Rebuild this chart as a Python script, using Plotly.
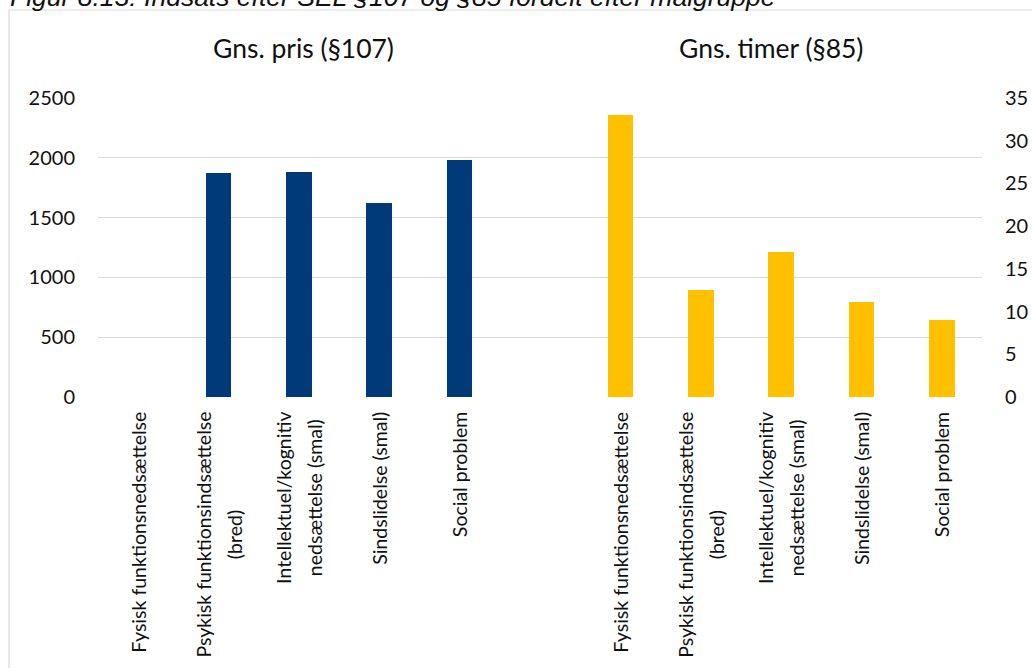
import plotly.graph_objects as go

# Target groups (same order in both panels)
categories = [
    "Fysisk funktionsnedsættelse",
    "Psykisk funktionsindsættelse (bred)",
    "Intellektuel/kognitiv nedsættelse (smal)",
    "Sindslidelse (smal)",
    "Social problem",
]
# Wrapped versions of the category names for the axis labels
category_lines = [
    ["Fysisk funktionsnedsættelse"],
    ["Psykisk funktionsindsættelse", "(bred)"],
    ["Intellektuel/kognitiv", "nedsættelse (smal)"],
    ["Sindslidelse (smal)"],
    ["Social problem"],
]

# Average price, SEL §107 (left axis)
pris_107 = [None, 1870, 1885, 1620, 1980]
# Average hours, SEL §85 (right axis)
timer_85 = [33.0, 12.5, 17.0, 11.1, 9.0]

group_titles = ["Gns. pris (§107)", "Gns. timer (§85)"]
figure_title = "Figur 8.13: Indsats efter SEL §107 og §85 fordelt efter målgruppe"

left_ticks = [0, 500, 1000, 1500, 2000, 2500]
right_ticks = [0, 5, 10, 15, 20, 25, 30, 35]

# Slot positions: five slots per group with one empty slot between the groups
left_slots = [0, 1, 2, 3, 4]
right_slots = [6, 7, 8, 9, 10]

NAVY = "#003A78"
GOLD = "#FFC000"
GRID = "#D9D9D9"
FONT = "Lato"

W, H = 1032, 668
ML, MR, MT, MB = 98, 50, 98, 271
PW, PH = W - ML - MR, H - MT - MB


def px_x(px):
    return (px - ML) / PW


def px_y(py):
    return (H - MB - py) / PH


fig = go.Figure()
fig.add_trace(go.Bar(
    x=left_slots, y=pris_107, width=0.32, marker=dict(color=NAVY, line=dict(width=0)),
    yaxis="y", name=group_titles[0], showlegend=False, hoverinfo="y",
))
fig.add_trace(go.Bar(
    x=right_slots, y=timer_85, width=0.32, marker=dict(color=GOLD, line=dict(width=0)),
    yaxis="y2", name=group_titles[1], showlegend=False, hoverinfo="y",
))

annotations = []
# Category labels, rotated, lines centred on each other
for slots in (left_slots, right_slots):
    for slot, lines in zip(slots, category_lines):
        text = "<br>".join('<span style="font-size:19.5px">%s</span>' % ln for ln in lines)
        annotations.append(dict(
            x=slot, y=0, xref="x", yref="y", text=text, textangle=-90,
            showarrow=False, xanchor="center", yanchor="top", yshift=-13,
            align="center", font=dict(family=FONT, size=24, color="#111111"),
        ))

# Group titles
for title, cx in zip(group_titles, (303, 771)):
    annotations.append(dict(
        x=px_x(cx), y=px_y(48), xref="paper", yref="paper", text=title,
        showarrow=False, xanchor="center", yanchor="middle",
        font=dict(family=FONT, size=26.5, color="#111111"),
    ))

# Figure caption, partly above the top edge
annotations.append(dict(
    x=px_x(8), y=px_y(-2.5), xref="paper", yref="paper", text="<i>%s</i>" % figure_title,
    showarrow=False, xanchor="left", yanchor="middle",
    font=dict(family="Liberation Sans", size=26.5, color="#111111"),
))

fig.update_layout(
    width=W, height=H,
    margin=dict(l=ML, r=MR, t=MT, b=MB, pad=0, autoexpand=False),
    paper_bgcolor="white", plot_bgcolor="white",
    barmode="overlay",
    bargap=0,
    xaxis=dict(range=[-0.5, 10.5], showticklabels=False, showgrid=False,
               zeroline=False, showline=False, ticks="", fixedrange=True,
               automargin=False),
    yaxis=dict(range=[0, 2500], tickvals=left_ticks, showgrid=True, gridcolor=GRID,
               gridwidth=1, zeroline=False, showline=False, ticks="",
               ticklabelstandoff=22, automargin=False,
               tickfont=dict(family=FONT, size=20, color="#111111")),
    yaxis2=dict(range=[0, 35], tickvals=right_ticks, overlaying="y", side="right",
                showgrid=False, zeroline=False, showline=False, ticks="",
                ticklabelstandoff=22, automargin=False,
                tickfont=dict(family=FONT, size=20, color="#111111")),
    annotations=annotations,
    shapes=[dict(
        type="rect", xref="paper", yref="paper",
        x0=px_x(9), x1=px_x(W + 20), y0=px_y(H + 20), y1=px_y(10),
        line=dict(color=GRID, width=1.2), fillcolor="rgba(0,0,0,0)", layer="below",
    )],
)

fig.write_html("out.html")
